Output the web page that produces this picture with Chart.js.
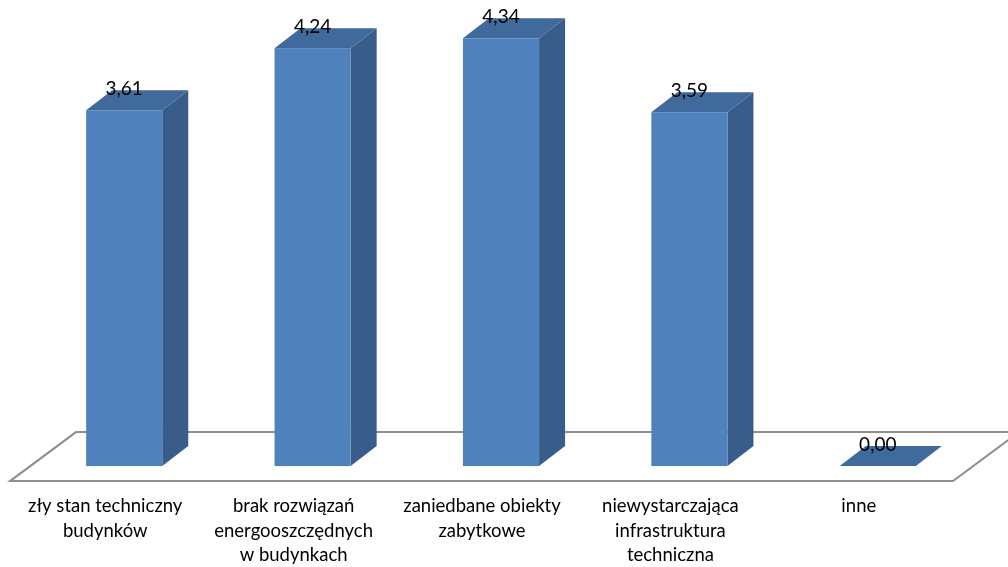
<!DOCTYPE html>
<html>
<head>
<meta charset="utf-8">
<script src="https://cdn.jsdelivr.net/npm/chart.js@4.4.1/dist/chart.umd.min.js"></script>
<style>
  html, body { margin:0; padding:0; background:#fff; overflow:hidden; }
  #wrap { width:1008px; height:580px; }
</style>
</head>
<body>
<div id="wrap"><canvas id="wykres" width="1008" height="580"></canvas></div>
<script>
// dane wykresu
var kategorie = [
  ['zły stan techniczny', 'budynków'],
  ['brak rozwiązań', 'energooszczędnych', 'w budynkach'],
  ['zaniedbane obiekty', 'zabytkowe'],
  ['niewystarczająca', 'infrastruktura', 'techniczna'],
  ['inne']
];
var wartosci = [3.61, 4.24, 4.34, 3.59, 0.00];

var kolorPrzod = '#4F81BD';
var kolorBok = '#385D8A';
var kolorGora = '#40699C';

// przesuniecia "3D" (rzut ukosny)
var floorDx = 66, floorDy = -49;   // glebokosc podlogi
var barOx = 19, barOy = -15;       // slupek stoi w glebi podlogi
var barDx = 26, barDy = -20;       // glebokosc slupka

var efekt3d = {
  id: 'efekt3d',
  beforeDatasetsDraw: function(chart){
    var ctx = chart.ctx;
    var ca = chart.chartArea;
    ctx.save();
    ctx.beginPath();
    ctx.moveTo(ca.left - 1, ca.bottom);
    ctx.lineTo(ca.right, ca.bottom);
    ctx.lineTo(ca.right + floorDx, ca.bottom + floorDy);
    ctx.lineTo(ca.left - 1 + floorDx, ca.bottom + floorDy);
    ctx.closePath();
    ctx.fillStyle = '#fff';
    ctx.fill();
    ctx.strokeStyle = '#8E8E8E';
    ctx.lineWidth = 2;
    ctx.stroke();
    ctx.restore();
  },
  afterDatasetsDraw: function(chart){
    var ctx = chart.ctx;
    var meta = chart.getDatasetMeta(0);
    ctx.save();
    meta.data.forEach(function(el, i){
      var w = el.width;
      var l = el.x - w/2 + barOx, r = el.x + w/2 + barOx;
      var t = el.y + barOy, b = el.base + barOy;
      // bok
      if (b - t > 0.5) {
        ctx.beginPath();
        ctx.moveTo(r, b); ctx.lineTo(r + barDx, b + barDy);
        ctx.lineTo(r + barDx, t + barDy); ctx.lineTo(r, t);
        ctx.closePath();
        ctx.fillStyle = kolorBok; ctx.fill();
        ctx.fillStyle = kolorPrzod;
        ctx.fillRect(l, t, r - l, b - t);
      }
      // gora
      ctx.beginPath();
      ctx.moveTo(l, t); ctx.lineTo(l + barDx, t + barDy);
      ctx.lineTo(r + barDx, t + barDy); ctx.lineTo(r, t);
      ctx.closePath();
      ctx.fillStyle = kolorGora; ctx.fill();
      // etykieta
      ctx.fillStyle = '#000';
      ctx.font = '19px Lato';
      ctx.textAlign = 'center';
      ctx.textBaseline = 'middle';
      ctx.fillText(wartosci[i].toFixed(2).replace('.', ','), (l + r) / 2, t - 21);
    });
    ctx.restore();
  }
};

var ctx = document.getElementById('wykres').getContext('2d');
var myChart = new Chart(ctx, {
  type: 'bar',
  data: {
    labels: kategorie,
    datasets: [{
      data: wartosci,
      backgroundColor: 'rgba(0,0,0,0)',
      borderWidth: 0,
      barPercentage: 0.404,
      categoryPercentage: 1
    }]
  },
  options: {
    responsive: false,
    animation: false,
    layout: { padding: { left: 11, right: 55, top: 8, bottom: 0 } },
    plugins: { legend: { display: false }, tooltip: { enabled: false } },
    scales: {
      x: {
        grid: { display: false, drawTicks: false },
        border: { display: false },
        ticks: {
          color: '#000',
          font: { family: 'Lato', size: 18.5, lineHeight: 1.35 },
          padding: 12,
          maxRotation: 0,
          autoSkip: false
        }
      },
      y: { display: false, min: 0, max: 4.8 }
    }
  },
  plugins: [efekt3d]
});
</script>
</body>
</html>
